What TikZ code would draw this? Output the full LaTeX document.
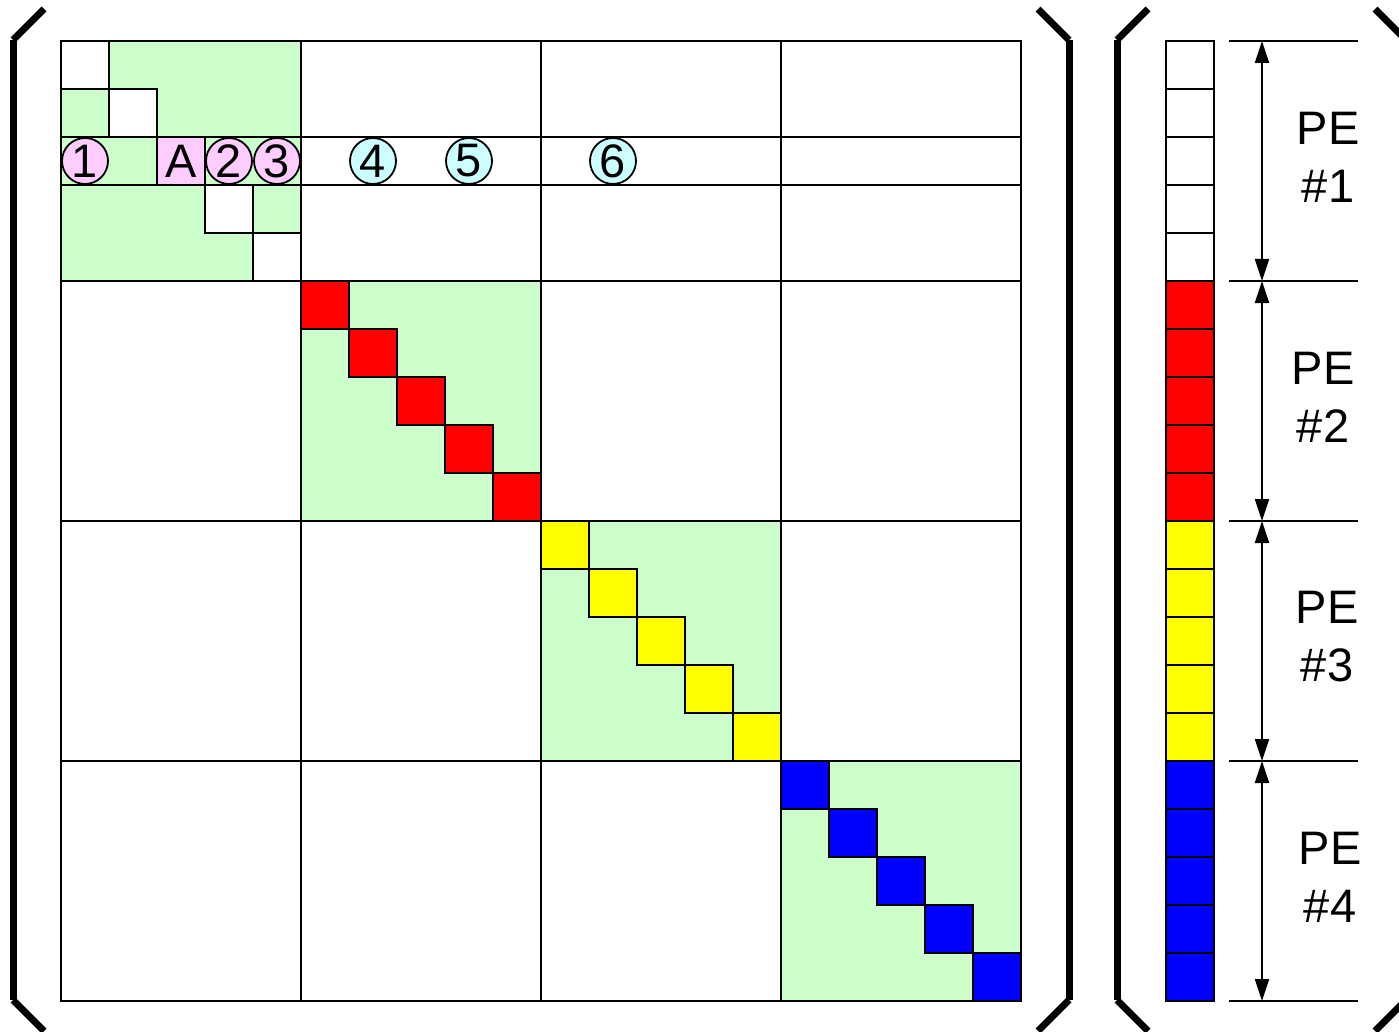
\documentclass[tikz,border=0pt]{standalone}
\usepackage{fontspec}
\setmainfont{Liberation Sans}
\usetikzlibrary{arrows.meta}
\definecolor{lgreen}{HTML}{CCFFCC}
\definecolor{lpink}{HTML}{FFCCFF}
\definecolor{lcyan}{HTML}{CCFFFF}
\definecolor{cred}{HTML}{FF0000}
\definecolor{cyellow}{HTML}{FFFF00}
\definecolor{cblue}{HTML}{0000FF}
\begin{document}
\begin{tikzpicture}[x=1pt,y=-1pt,
  gridline/.style={draw=black,line width=2.6pt},
  cellbox/.style={draw=black,line width=2.6pt},
  brk/.style={line width=7pt,line cap=butt},
  pcirc/.style={circle,draw=black,line width=1.8pt,fill=lpink,minimum size=46pt,inner sep=0pt,font=\fontsize{47}{47}\selectfont},
  ccirc/.style={circle,draw=black,line width=1.8pt,fill=lcyan,minimum size=46pt,inner sep=0pt,font=\fontsize{47}{47}\selectfont},
  pebox/.style={align=center,inner sep=0pt,font=\fontsize{47}{58}\selectfont},
  dimline/.style={line width=2.6pt},
  dimarrow/.style={line width=2pt,{Triangle[length=22pt,width=14pt]}-{Triangle[length=22pt,width=14pt]}}
]
\useasboundingbox (0,0) rectangle (1399,1032);
\clip (0,0) rectangle (1399,1032);
\fill[white] (0,0) rectangle (1399,1032);

% green diagonal blocks
\foreach \b in {0,1,2,3}
  \fill[lgreen] ({61+240*\b},{41+240*\b}) rectangle ++(240,240);

% block 1 white diagonal cells
\foreach \k in {0,1,3,4}
  \draw[cellbox,fill=white] ({61+48*\k},{41+48*\k}) rectangle ++(48,48);

% coloured diagonal cells
\foreach \b/\c in {1/cred,2/cyellow,3/cblue}
  \foreach \k in {0,...,4}
    \draw[cellbox,fill=\c] ({61+240*\b+48*\k},{41+240*\b+48*\k}) rectangle ++(48,48);

% grid
\draw[gridline] (61,41) rectangle (1021,1001);
\foreach \v/\h in {301/281,541/521,781/761} {
  \draw[gridline] (\v,41) -- (\v,1001);
  \draw[gridline] (61,\h) -- (1021,\h);
}
\draw[gridline] (61,137) -- (1021,137);
\draw[gridline] (61,185) -- (1021,185);

% row 3 entries
\node[draw=black,line width=2.6pt,fill=lpink,minimum size=48pt,inner sep=0pt,font=\fontsize{47}{47}\selectfont] (nA) at (181,161) {A};
\node[pcirc] (c1) at (85,161) {1};
\node[pcirc] (c2) at (229,161) {2};
\node[pcirc] (c3) at (277,161) {3};
\node[ccirc] (c4) at (373,161) {4};
\node[ccirc] (c5) at (469,161) {5};
\node[ccirc] (c6) at (613,161) {6};

% vector
\foreach \k in {0,...,19} {
  \pgfmathsetmacro{\g}{int(\k/5)}
  \ifcase\g \def\vc{white}\or \def\vc{cred}\or \def\vc{cyellow}\or \def\vc{cblue}\fi
  \draw[cellbox,fill=\vc] (1166,{41+48*\k}) rectangle ++(48,48);
}

% brackets
\draw[brk] (13,40) -- (13,1000);
\draw[brk] (13,40) -- (44,9);
\draw[brk] (13,1000) -- (44,1031);
\draw[brk] (1069,40) -- (1069,1000);
\draw[brk] (1069,40) -- (1038,9);
\draw[brk] (1069,1000) -- (1038,1031);
\draw[brk] (1117,40) -- (1117,1000);
\draw[brk] (1117,40) -- (1148,9);
\draw[brk] (1117,1000) -- (1148,1031);
\draw[brk] (1406,40) -- (1406,1000);
\draw[brk] (1406,40) -- (1375,9);
\draw[brk] (1406,1000) -- (1375,1031);

% dimension lines
\foreach \y [count=\i] in {41,281,521,761,1001}
  \coordinate (d\i) at (1262,\y);
\foreach \y in {41,281,521,761,1001}
  \draw[dimline] (1229,\y) -- (1358,\y);
\draw[dimarrow] (d1) -- (d2);
\draw[dimarrow] (d2) -- (d3);
\draw[dimarrow] (d3) -- (d4);
\draw[dimarrow] (d4) -- (d5);

\node[pebox] (pe1) at (1328,157) {PE\\\#1};
\node[pebox] (pe2) at (1323,397) {PE\\\#2};
\node[pebox] (pe3) at (1327,637) {PE\\\#3};
\node[pebox] (pe4) at (1330,877) {PE\\\#4};
\end{tikzpicture}
\end{document}
